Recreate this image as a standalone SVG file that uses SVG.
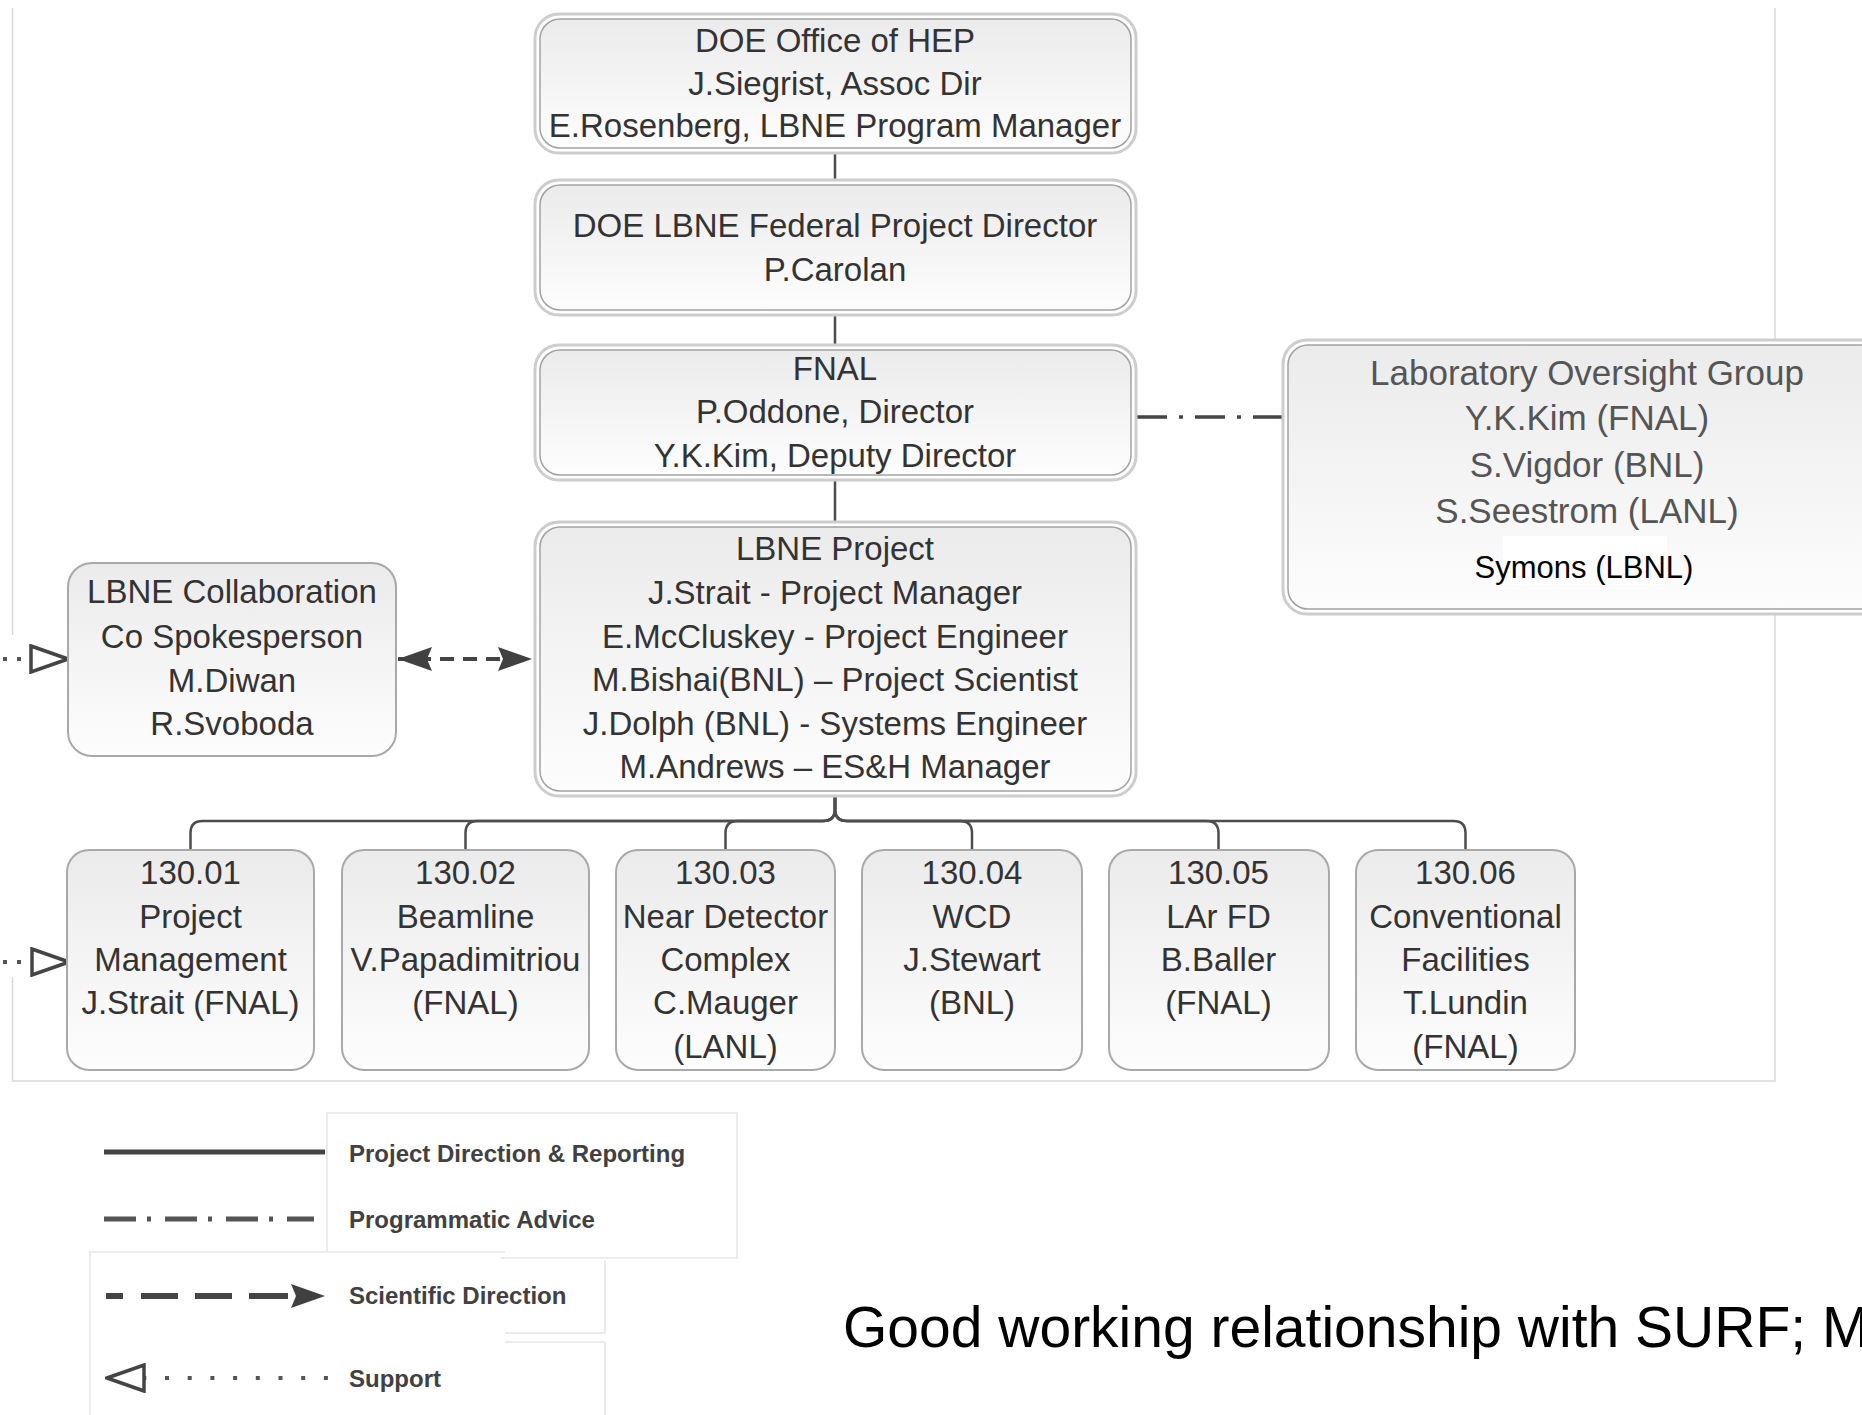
<svg xmlns="http://www.w3.org/2000/svg" width="1862" height="1415" viewBox="0 0 1862 1415">
<style>
.t{font-family:"Liberation Sans",Arial,sans-serif;font-size:33px;fill:#333;text-anchor:middle}
.tl{font-family:"Liberation Sans",Arial,sans-serif;font-size:35px;fill:#555;text-anchor:middle}
.lg{font-family:"Liberation Sans",Arial,sans-serif;font-size:24px;font-weight:bold;fill:#414141}
.outer{fill:#fff;stroke:#cdcdcd;stroke-width:3}
.inner{fill:url(#g);stroke:#a2a2a2;stroke-width:1.5}
.single{fill:url(#g);stroke:#a9a9a9;stroke-width:2}
.conn{fill:none;stroke:#4d4d4d;stroke-width:2.5}
.frame{fill:none;stroke:#dadada;stroke-width:1.5}
.lbox{fill:none;stroke:#e6e6e6;stroke-width:1.5}
</style>
<defs>
<linearGradient id="g" x1="0" y1="0" x2="0" y2="1">
<stop offset="0" stop-color="#ebebeb"/>
<stop offset="1" stop-color="#fdfdfd"/>
</linearGradient>
<marker id="fa" markerUnits="userSpaceOnUse" viewBox="0 0 34 24" markerWidth="34" markerHeight="24" refX="34" refY="12" orient="auto-start-reverse">
<path d="M0,0 L34,12 L0,24 L5,12 Z" fill="#404040"/>
</marker>
<marker id="oa" markerUnits="userSpaceOnUse" viewBox="0 0 42 30" markerWidth="42" markerHeight="30" refX="40" refY="15" orient="auto-start-reverse">
<path d="M3,2 L40,15 L3,28 Z" fill="#fff" stroke="#444" stroke-width="3.5" stroke-linejoin="miter"/>
</marker>
</defs>
<rect width="1862" height="1415" fill="#fff"/>

<g id="frame">
<path class="frame" d="M12.5,8 V635 M12.5,977 V1081 H1775 V8"/>
</g>

<g id="connectors">
<path class="conn" d="M835,153 V180 M835,315 V345 M835,480 V522"/>
<path class="conn" d="M835,796 V809 Q835,821 823,821 H202.5 Q190.5,821 190.5,833 V849"/>
<path class="conn" d="M835,796 V809 Q835,821 823,821 H477.5 Q465.5,821 465.5,833 V849"/>
<path class="conn" d="M835,796 V809 Q835,821 823,821 H737.5 Q725.5,821 725.5,833 V849"/>
<path class="conn" d="M835,796 V809 Q835,821 847,821 H960 Q972,821 972,833 V849"/>
<path class="conn" d="M835,796 V809 Q835,821 847,821 H1206.5 Q1218.5,821 1218.5,833 V849"/>
<path class="conn" d="M835,796 V809 Q835,821 847,821 H1453.5 Q1465.5,821 1465.5,833 V849"/>
<path d="M1137,417 H1283" fill="none" stroke="#444" stroke-width="3.5" stroke-dasharray="30 12 4 12"/>
<path d="M398,659 H532" fill="none" stroke="#444" stroke-width="4" stroke-dasharray="14 9" stroke-dashoffset="4" marker-start="url(#fa)" marker-end="url(#fa)"/>
<path d="M3,659 H68" fill="none" stroke="#555" stroke-width="4" stroke-dasharray="4 10" marker-end="url(#oa)"/>
<path d="M3,962 H69" fill="none" stroke="#555" stroke-width="4" stroke-dasharray="4 10" marker-end="url(#oa)"/>
</g>

<g id="doe-hep">
<rect class="outer" x="535" y="14" width="601" height="139" rx="24"/>
<rect class="inner" x="540" y="19" width="591" height="129" rx="20"/>
<text class="t" x="835" y="52">DOE Office of HEP</text>
<text class="t" x="835" y="95">J.Siegrist, Assoc Dir</text>
<text class="t" x="835" y="137">E.Rosenberg, LBNE Program Manager</text>
</g>

<g id="doe-fpd">
<rect class="outer" x="535" y="180" width="601" height="135" rx="24"/>
<rect class="inner" x="540" y="185" width="591" height="125" rx="20"/>
<text class="t" x="835" y="237">DOE LBNE Federal Project Director</text>
<text class="t" x="835" y="281">P.Carolan</text>
</g>

<g id="fnal">
<rect class="outer" x="535" y="345" width="601" height="135" rx="24"/>
<rect class="inner" x="540" y="350" width="591" height="125" rx="20"/>
<text class="t" x="835" y="380">FNAL</text>
<text class="t" x="835" y="423">P.Oddone, Director</text>
<text class="t" x="835" y="467">Y.K.Kim, Deputy Director</text>
</g>

<g id="lbne-project">
<rect class="outer" x="535" y="522" width="601" height="274" rx="24"/>
<rect class="inner" x="540" y="527" width="591" height="264" rx="20"/>
<text class="t" x="835" y="560">LBNE Project</text>
<text class="t" x="835" y="604">J.Strait - Project Manager</text>
<text class="t" x="835" y="648">E.McCluskey - Project Engineer</text>
<text class="t" x="835" y="691">M.Bishai(BNL) – Project Scientist</text>
<text class="t" x="835" y="735">J.Dolph (BNL) - Systems Engineer</text>
<text class="t" x="835" y="778">M.Andrews – ES&amp;H Manager</text>
</g>

<g id="lab-oversight">
<rect class="outer" x="1283" y="340" width="640" height="274" rx="24"/>
<rect class="inner" x="1288" y="345" width="630" height="264" rx="20"/>
<text class="tl" x="1587" y="385">Laboratory Oversight Group</text>
<text class="tl" x="1587" y="430">Y.K.Kim (FNAL)</text>
<text class="tl" x="1587" y="477">S.Vigdor (BNL)</text>
<text class="tl" x="1587" y="523">S.Seestrom (LANL)</text>
<rect x="1503" y="536" width="164" height="49" fill="#fff"/>
<text x="1584" y="578" font-family="Liberation Sans, Arial, sans-serif" font-size="31" fill="#000" text-anchor="middle">Symons (LBNL)</text>
</g>

<g id="lbne-collab">
<rect class="single" x="68" y="563" width="328" height="193" rx="24"/>
<text class="t" x="232" y="603">LBNE Collaboration</text>
<text class="t" x="232" y="648">Co Spokesperson</text>
<text class="t" x="232" y="692">M.Diwan</text>
<text class="t" x="232" y="735">R.Svoboda</text>
</g>

<g id="wbs-13001">
<rect class="single" x="67" y="850" width="247" height="220" rx="22"/>
<text class="t" x="190.5" y="884">130.01</text>
<text class="t" x="190.5" y="928">Project</text>
<text class="t" x="190.5" y="971">Management</text>
<text class="t" x="190.5" y="1014">J.Strait (FNAL)</text>
</g>

<g id="wbs-13002">
<rect class="single" x="342" y="850" width="247" height="220" rx="22"/>
<text class="t" x="465.5" y="884">130.02</text>
<text class="t" x="465.5" y="928">Beamline</text>
<text class="t" x="465.5" y="971">V.Papadimitriou</text>
<text class="t" x="465.5" y="1014">(FNAL)</text>
</g>

<g id="wbs-13003">
<rect class="single" x="616" y="850" width="219" height="220" rx="22"/>
<text class="t" x="725.5" y="884">130.03</text>
<text class="t" x="725.5" y="928">Near Detector</text>
<text class="t" x="725.5" y="971">Complex</text>
<text class="t" x="725.5" y="1014">C.Mauger</text>
<text class="t" x="725.5" y="1058">(LANL)</text>
</g>

<g id="wbs-13004">
<rect class="single" x="862" y="850" width="220" height="220" rx="22"/>
<text class="t" x="972" y="884">130.04</text>
<text class="t" x="972" y="928">WCD</text>
<text class="t" x="972" y="971">J.Stewart</text>
<text class="t" x="972" y="1014">(BNL)</text>
</g>

<g id="wbs-13005">
<rect class="single" x="1109" y="850" width="220" height="220" rx="22"/>
<text class="t" x="1218.5" y="884">130.05</text>
<text class="t" x="1218.5" y="928">LAr FD</text>
<text class="t" x="1218.5" y="971">B.Baller</text>
<text class="t" x="1218.5" y="1014">(FNAL)</text>
</g>

<g id="wbs-13006">
<rect class="single" x="1356" y="850" width="219" height="220" rx="22"/>
<text class="t" x="1465.5" y="884">130.06</text>
<text class="t" x="1465.5" y="928">Conventional</text>
<text class="t" x="1465.5" y="971">Facilities</text>
<text class="t" x="1465.5" y="1014">T.Lundin</text>
<text class="t" x="1465.5" y="1058">(FNAL)</text>
</g>

<g id="legend">
<path class="lbox" d="M327,1252 V1113 H737 V1258 H501"/>
<path class="lbox" d="M90,1415 V1252 H505"/>
<path class="lbox" d="M605,1260 V1333 H505 M605,1342 V1415 M505,1342 H605"/>
<path d="M104,1152 H325" stroke="#444" stroke-width="5"/>
<text class="lg" x="349" y="1162">Project Direction &amp; Reporting</text>
<path d="M104,1219 H314" stroke="#555" stroke-width="5" stroke-dasharray="32 11 4 14"/>
<text class="lg" x="349" y="1228">Programmatic Advice</text>
<path d="M106,1296 H325" fill="none" stroke="#444" stroke-width="6" stroke-dasharray="17 18 37 17 37 17 39 40" marker-end="url(#fa)"/>
<text class="lg" x="349" y="1304">Scientific Direction</text>
<path d="M107,1378 H328" fill="none" stroke="#555" stroke-width="4" stroke-dasharray="4 18.7" stroke-dashoffset="-58" marker-start="url(#oa)"/>
<text class="lg" x="349" y="1387">Support</text>
</g>

<text x="843" y="1347" font-family="Liberation Sans, Arial, sans-serif" font-size="57" fill="#000">Good working relationship with SURF; M</text>
</svg>
